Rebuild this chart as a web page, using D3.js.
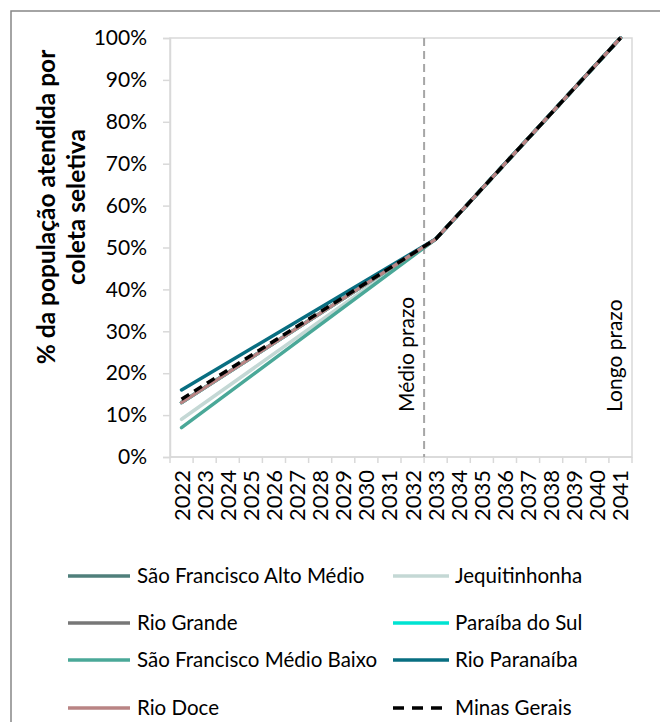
<!DOCTYPE html>
<html>
<head>
<meta charset="utf-8">
<script src="https://cdn.jsdelivr.net/npm/d3@7"></script>
<style>
  html, body { margin: 0; padding: 0; background: #fff; }
  svg { display: block; font-family: Lato, "Open Sans", sans-serif; }
</style>
</head>
<body>
<svg id="chart" width="660" height="722"></svg>
<script>
// Years on the category axis
const years = ["2022","2023","2024","2025","2026","2027","2028","2029","2030","2031",
               "2032","2033","2034","2035","2036","2037","2038","2039","2040","2041"];

// Share of population served by selective collection (%), per basin.
// Values are given at the start year, the medium-term year and the long-term year.
const saoFranciscoAltoMedio = [13,null,null,null,null,null,null,null,null,null,null,52,null,null,null,null,null,null,null,100];
const jequitinhonha         = [9, null,null,null,null,null,null,null,null,null,null,52,null,null,null,null,null,null,null,100];
const rioGrande             = [13,null,null,null,null,null,null,null,null,null,null,52,null,null,null,null,null,null,null,100];
const paraibaDoSul          = [13,null,null,null,null,null,null,null,null,null,null,52,null,null,null,null,null,null,null,100];
const saoFranciscoMedioBaixo= [7, null,null,null,null,null,null,null,null,null,null,52,null,null,null,null,null,null,null,100];
const rioParanaiba          = [16,null,null,null,null,null,null,null,null,null,null,52,null,null,null,null,null,null,null,100];
const rioDoce               = [13,null,null,null,null,null,null,null,null,null,null,52,null,null,null,null,null,null,null,100];
const minasGerais           = [13.8,null,null,null,null,null,null,null,null,null,null,52,null,null,null,null,null,null,null,100];

const seriesNames = ["São Francisco Alto Médio","Jequitinhonha","Rio Grande","Paraíba do Sul",
                     "São Francisco Médio Baixo","Rio Paranaíba","Rio Doce","Minas Gerais"];
const seriesValues = [saoFranciscoAltoMedio, jequitinhonha, rioGrande, paraibaDoSul,
                      saoFranciscoMedioBaixo, rioParanaiba, rioDoce, minasGerais];
const yTicks = [0,10,20,30,40,50,60,70,80,90,100];

// Planning horizons marked on the chart
const medioPrazoAfter = "2032";
const longoPrazoYear = "2041";

const colors = ["#4f7f7b","#c4d8d5","#777777","#00e3d2","#4aa898","#086e81","#b98484","#000000"];

const svg = d3.select("#chart");
const margin = {left: 170, top: 38, right: 632, bottom: 457};

// Outer chart frame
svg.append("rect").attr("x", 11).attr("y", 11).attr("width", 700).attr("height", 760)
  .attr("fill", "none").attr("stroke", "#878787").attr("stroke-width", 1.5);

const x = d3.scaleBand().domain(years).range([margin.left, margin.right]).paddingInner(0).paddingOuter(0);
const y = d3.scaleLinear().domain([0, 100]).range([margin.bottom, margin.top]);
const cx = d => x(d) + x.bandwidth() / 2;

// Plot-area border (top and right)
svg.append("rect")
  .attr("x", margin.left).attr("y", margin.top)
  .attr("width", margin.right - margin.left).attr("height", margin.bottom - margin.top)
  .attr("fill", "none").attr("stroke", "#d9d9d9").attr("stroke-width", 1.5);

// Y axis
const yAxis = d3.axisLeft(y).tickValues(yTicks).tickFormat(d => d + "%").tickSizeOuter(0).tickSize(7).tickPadding(16);
const gy = svg.append("g").attr("transform", `translate(${margin.left},0)`).call(yAxis);
gy.select(".domain").attr("stroke", "#d9d9d9").attr("stroke-width", 1.5);
gy.selectAll(".tick line").attr("stroke", "#d9d9d9").attr("stroke-width", 1.5);
gy.selectAll(".tick text").attr("font-size", 21).attr("fill", "#000").attr("font-family", "Lato, sans-serif");

// X axis: tick marks on category boundaries, labels rotated
const gx = svg.append("g");
gx.append("line").attr("x1", margin.left).attr("x2", margin.right)
  .attr("y1", margin.bottom).attr("y2", margin.bottom)
  .attr("stroke", "#d9d9d9").attr("stroke-width", 1.5);
const bounds = years.map(d => x(d)).concat([x.range()[1]]);
gx.selectAll("line.tk").data(bounds).enter().append("line").attr("class", "tk")
  .attr("x1", d => d).attr("x2", d => d)
  .attr("y1", margin.bottom).attr("y2", margin.bottom + 6)
  .attr("stroke", "#d9d9d9").attr("stroke-width", 1.5);
gx.selectAll("text").data(years).enter().append("text")
  .attr("transform", d => `translate(${cx(d) + 8},${margin.bottom + 13}) rotate(-90)`)
  .attr("text-anchor", "end")
  .attr("font-size", 22).attr("fill", "#000")
  .text(d => d);

// Medium-term marker
const mx = x(medioPrazoAfter) + x.bandwidth();
svg.append("line").attr("x1", mx).attr("x2", mx).attr("y1", margin.top).attr("y2", margin.bottom)
  .attr("stroke", "#a6a6a6").attr("stroke-width", 2).attr("stroke-dasharray", "8,5");
svg.append("text")
  .attr("transform", `translate(${mx - 10},412) rotate(-90)`)
  .attr("text-anchor", "start").attr("font-size", 21).attr("fill", "#000")
  .text("Médio prazo");
svg.append("text")
  .attr("transform", `translate(${cx(longoPrazoYear) + 2},412) rotate(-90)`)
  .attr("text-anchor", "start").attr("font-size", 21).attr("fill", "#000")
  .text("Longo prazo");

// Series lines
const line = d3.line().x(d => cx(d.year)).y(d => y(d.value));
seriesValues.forEach((vals, i) => {
  const pts = years.map((yr, j) => ({year: yr, value: vals[j]})).filter(p => p.value !== null);
  svg.append("path").datum(pts)
    .attr("d", line)
    .attr("fill", "none")
    .attr("stroke", colors[i])
    .attr("stroke-width", 3.5)
    .attr("stroke-linecap", i === 7 ? "butt" : "round")
    .attr("stroke-dasharray", i === 7 ? "9,6" : null);
});

// Y axis title
const title = svg.append("text")
  .attr("transform", `translate(55,207) rotate(-90)`)
  .attr("text-anchor", "middle").attr("font-size", 24.5).attr("font-weight", "bold").attr("fill", "#000");
title.append("tspan").attr("x", 0).attr("dy", 0).text("% da população atendida por");
title.append("tspan").attr("x", 0).attr("dy", 30).text("coleta seletiva");

// Legend
const legendRows = [576, 623, 660, 708];
const legendCols = [{x1: 68, x2: 130, tx: 137}, {x1: 393, x2: 449, tx: 455}];
const legend = svg.append("g");
seriesNames.forEach((name, i) => {
  const col = legendCols[i % 2];
  const ry = legendRows[Math.floor(i / 2)];
  legend.append("line")
    .attr("x1", col.x1).attr("x2", col.x2).attr("y1", ry).attr("y2", ry)
    .attr("stroke", colors[i]).attr("stroke-width", 3.5)
    .attr("stroke-dasharray", i === 7 ? "11,8" : null);
  legend.append("text")
    .attr("x", col.tx).attr("y", ry).attr("dy", "0.35em")
    .attr("font-size", 20.5).attr("fill", "#000")
    .text(name);
});
</script>
</body>
</html>
